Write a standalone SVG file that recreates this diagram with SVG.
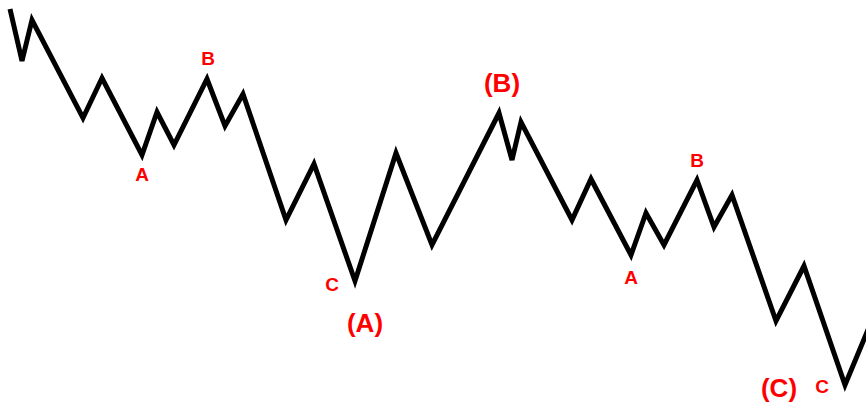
<svg xmlns="http://www.w3.org/2000/svg" width="866" height="406" viewBox="0 0 866 406">
<style>
.wave{fill:none;stroke:#000;stroke-width:5;stroke-linejoin:miter}
.lbl{font-family:"Liberation Sans",Arial,sans-serif;font-weight:bold;fill:#ff0000;text-anchor:middle}
.s{font-size:19px}
.l{font-size:26px}
</style>
<rect width="866" height="406" fill="#fff"/>
<g id="wave">
<polyline class="wave" points="10,9 22,61 32,20 83,118 102,78 142,155 157,112 174,145 207,79 225,126 243,94 286,220 314,164 355,281 396,153 432,245 499,113 512,160 521,122 572,220 591,179 631,255 646,213 664,245 697,180 714,227 732,195 776,321 804,266 845,385 870,325"/>
</g>
<g id="labels">
<text class="lbl s" x="142" y="181">A</text>
<text class="lbl s" x="208" y="65">B</text>
<text class="lbl s" x="332" y="291">C</text>
<text class="lbl l" x="365" y="332">(A)</text>
<text class="lbl l" x="502" y="92">(B)</text>
<text class="lbl s" x="631" y="284">A</text>
<text class="lbl s" x="697" y="167">B</text>
<text class="lbl l" x="779" y="397">(C)</text>
<text class="lbl s" x="822" y="393">C</text>
</g>
</svg>
